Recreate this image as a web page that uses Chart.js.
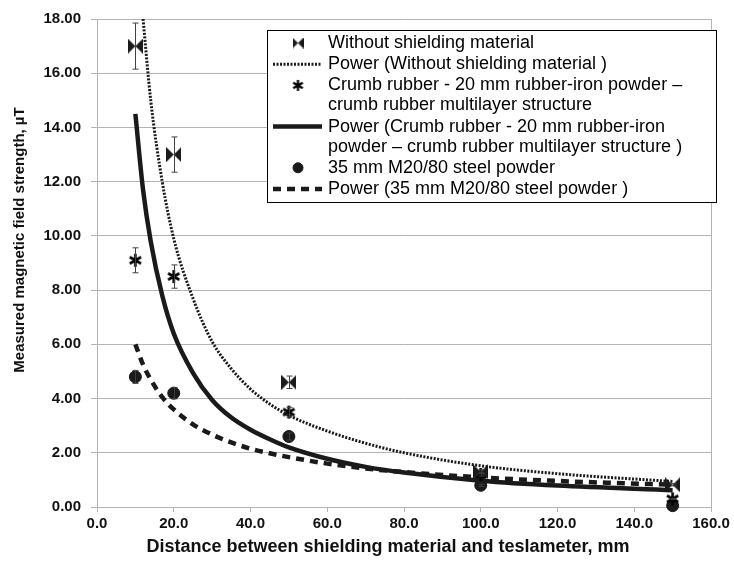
<!DOCTYPE html>
<html>
<head>
<meta charset="utf-8">
<script src="https://cdn.jsdelivr.net/npm/chart.js@4.4.0/dist/chart.umd.min.js"></script>
<style>
  html, body { margin: 0; padding: 0; background: #fff; }
  #wrap { width: 734px; height: 571px; }
</style>
</head>
<body>
<div id="wrap"><canvas id="myChart" width="734" height="571"></canvas></div>
<script>
// measured points
const distances = [10, 20, 50, 100, 150];
const withoutShielding = [17.0, 13.0, 4.6, 1.3, 0.82];
const withoutErr = [0.85, 0.65, 0.23, 0.07, 0.04];
const crumbRubber = [9.1, 8.5, 3.5, 1.2, 0.3];
const crumbErr = [0.46, 0.43, 0.18, 0.06, 0.02];
const steelPowder = [4.8, 4.2, 2.6, 0.8, 0.05];
const steelErr = [0.24, 0.21, 0.13, 0.04, 0];

// power trendlines, values
const trendX = [10, 12, 14, 17, 20, 25, 30, 35, 40, 45, 50, 60, 70, 80, 100, 120, 150];
const trendWithout = [null, 18.0, 15.0, 12.0, 9.9, 7.7, 6.1, 5.1, 4.35, 3.8, 3.38, 2.8, 2.35, 2.0, 1.52, 1.23, 0.94];
const trendCrumb = [14.5, 11.7, 9.8, 7.8, 6.4, 4.95, 3.95, 3.3, 2.85, 2.5, 2.2, 1.78, 1.48, 1.27, 0.97, 0.79, 0.62];
const trendSteel = [6.0, 5.25, 4.7, 4.05, 3.6, 3.05, 2.67, 2.38, 2.15, 1.98, 1.84, 1.6, 1.42, 1.29, 1.09, 0.96, 0.82];

const legendLabels = [
  ["Without shielding material"],
  ["Power (Without shielding material )"],
  ["Crumb rubber - 20 mm rubber-iron powder \u2013", "crumb rubber multilayer structure"],
  ["Power (Crumb rubber - 20 mm rubber-iron", "powder \u2013 crumb rubber multilayer structure )"],
  ["35 mm M20/80 steel powder"],
  ["Power (35 mm M20/80 steel powder )"]
];

const xTitle = "Distance between shielding material and teslameter, mm";
const yTitle = "Measured magnetic field strength, \u00b5T";

const ink = "#1a1a1a";
const gridColor = "#b4b4b4";
const fontFamily = "'Liberation Sans', Arial, sans-serif";

function toPoints(xs, ys) {
  const pts = [];
  for (let i = 0; i < xs.length; i++) {
    if (ys[i] !== null) pts.push({ x: xs[i], y: ys[i] });
  }
  return pts;
}

// bowtie marker (two triangles pointing inwards)
function makeBowtie(size) {
  const c = document.createElement("canvas");
  c.width = size;
  c.height = size;
  const g = c.getContext("2d");
  g.fillStyle = ink;
  g.beginPath();
  g.moveTo(0, 0);
  g.lineTo(size / 2, size / 2);
  g.lineTo(0, size);
  g.closePath();
  g.moveTo(size, 0);
  g.lineTo(size / 2, size / 2);
  g.lineTo(size, size);
  g.closePath();
  g.fill();
  return c;
}

// excel style asterisk: an X with a vertical bar
function makeAsterisk(size, w) {
  const c = document.createElement("canvas");
  c.width = size;
  c.height = size;
  const g = c.getContext("2d");
  const m = size / 2, r = size / 2 - 1;
  g.strokeStyle = "#000";
  g.lineWidth = w;
  g.beginPath();
  g.moveTo(m, m - r);
  g.lineTo(m, m + r);
  const d = r * 0.87;
  g.moveTo(m - d, m - r * 0.5);
  g.lineTo(m + d, m + r * 0.5);
  g.moveTo(m - d, m + r * 0.5);
  g.lineTo(m + d, m - r * 0.5);
  g.stroke();
  return c;
}

const bowtie = makeBowtie(15);
const bowtieSmall = makeBowtie(11);
const asterisk = makeAsterisk(15, 2.6);
const asteriskSmall = makeAsterisk(13, 2.3);

const errorBarPlugin = {
  id: "errorBars",
  afterDatasetsDraw(chart) {
    const ctx = chart.ctx;
    const xs = chart.scales.x;
    const ys = chart.scales.y;
    ctx.save();
    ctx.strokeStyle = "#404040";
    ctx.lineWidth = 1;
    chart.data.datasets.forEach((ds) => {
      if (!ds.errorBars) return;
      ds.data.forEach((p, i) => {
        const e = ds.errorBars[i];
        if (!e) return;
        const px = Math.round(xs.getPixelForValue(p.x)) + 0.5;
        const top = ys.getPixelForValue(p.y + e);
        const bot = ys.getPixelForValue(p.y - e);
        ctx.beginPath();
        ctx.moveTo(px, top);
        ctx.lineTo(px, bot);
        ctx.moveTo(px - 3, top);
        ctx.lineTo(px + 3, top);
        ctx.moveTo(px - 3, bot);
        ctx.lineTo(px + 3, bot);
        ctx.stroke();
      });
    });
    ctx.restore();
  }
};

// right border of the plot and the two axis titles
const framePlugin = {
  id: "frame",
  afterDraw(chart) {
    const { ctx, chartArea } = chart;
    ctx.save();
    ctx.strokeStyle = gridColor;
    ctx.lineWidth = 1;
    ctx.beginPath();
    ctx.moveTo(Math.round(chartArea.right) + 0.5, chartArea.top);
    ctx.lineTo(Math.round(chartArea.right) + 0.5, chartArea.bottom);
    ctx.stroke();

    ctx.fillStyle = "#111";
    ctx.textAlign = "center";
    ctx.textBaseline = "middle";
    ctx.font = "bold 18px " + fontFamily;
    ctx.fillText(xTitle, 388, 547);
    ctx.translate(20, 240);
    ctx.rotate(-Math.PI / 2);
    ctx.font = "bold 15px " + fontFamily;
    ctx.fillText(yTitle, 0, 0);
    ctx.restore();
  }
};

// legend box drawn by hand so two-line entries fit
const legendPlugin = {
  id: "boxLegend",
  afterDraw(chart) {
    const ctx = chart.ctx;
    const left = 267, top = 30, right = 716, bottom = 202;
    const symX = 298, textX = 328;
    ctx.save();
    ctx.fillStyle = "#fff";
    ctx.fillRect(left, top, right - left, bottom - top);
    ctx.strokeStyle = "#000";
    ctx.lineWidth = 1;
    ctx.strokeRect(left + 0.5, top + 0.5, right - left, bottom - top);
    ctx.font = "18px " + fontFamily;
    ctx.textBaseline = "middle";
    let y = 43;
    chart.data.datasets.forEach((ds, i) => {
      const lines = legendLabels[i];
      if (ds.showLine) {
        ctx.save();
        ctx.strokeStyle = ds.borderColor;
        ctx.lineWidth = ds.borderWidth;
        ctx.setLineDash(ds.borderDash || []);
        ctx.beginPath();
        ctx.moveTo(273, y);
        ctx.lineTo(322, y);
        ctx.stroke();
        ctx.restore();
      } else {
        ctx.save();
        ctx.strokeStyle = ink;
        ctx.fillStyle = ink;
        let style = ds.pointStyle;
        if (style === bowtie) style = bowtieSmall;
        if (style === asterisk) style = asteriskSmall;
        Chart.helpers.drawPoint(ctx, {
          pointStyle: style,
          radius: ds.pointRadius - 1,
          rotation: 0,
          borderWidth: 1
        }, symX, y);
        ctx.restore();
      }
      ctx.fillStyle = "#000";
      lines.forEach((t, k) => ctx.fillText(t, textX, y + k * 20));
      y += lines.length * 20 + 1.2;
    });
    ctx.restore();
  }
};

new Chart("myChart", {
  type: "scatter",
  data: {
    datasets: [
      {
        label: legendLabels[0].join(" "),
        data: toPoints(distances, withoutShielding),
        errorBars: withoutErr,
        pointStyle: bowtie,
        pointRadius: 7,
        backgroundColor: ink,
        borderColor: ink,
        clip: false
      },
      {
        label: legendLabels[1].join(" "),
        data: toPoints(trendX, trendWithout),
        showLine: true,
        pointRadius: 0,
        borderColor: ink,
        borderWidth: 3,
        borderDash: [2, 1.5],
        cubicInterpolationMode: "monotone"
      },
      {
        label: legendLabels[2].join(" "),
        data: toPoints(distances, crumbRubber),
        errorBars: crumbErr,
        pointStyle: asterisk,
        pointRadius: 7,
        backgroundColor: ink,
        borderColor: ink,
        clip: false
      },
      {
        label: legendLabels[3].join(" "),
        data: toPoints(trendX, trendCrumb),
        showLine: true,
        pointRadius: 0,
        borderColor: ink,
        borderWidth: 4.5,
        cubicInterpolationMode: "monotone"
      },
      {
        label: legendLabels[4].join(" "),
        data: toPoints(distances, steelPowder),
        errorBars: steelErr,
        pointStyle: "circle",
        pointRadius: 6,
        backgroundColor: ink,
        borderColor: ink,
        clip: false
      },
      {
        label: legendLabels[5].join(" "),
        data: toPoints(trendX, trendSteel),
        showLine: true,
        pointRadius: 0,
        borderColor: ink,
        borderWidth: 4.5,
        borderDash: [8, 6],
        cubicInterpolationMode: "monotone"
      }
    ]
  },
  options: {
    responsive: false,
    animation: false,
    layout: { padding: { top: 16, right: 23, left: 0, bottom: 0 } },
    plugins: {
      legend: { display: false },
      tooltip: { enabled: false }
    },
    scales: {
      x: {
        type: "linear",
        min: 0,
        max: 160,
        afterFit: (s) => { s.height = 64; },
        ticks: {
          stepSize: 20,
          maxRotation: 0,
          padding: 3,
          color: "#111",
          font: { family: fontFamily, size: 15, weight: "bold" },
          callback: (v) => v.toFixed(1)
        },
        grid: { drawOnChartArea: false, tickLength: 5, color: gridColor },
        border: { color: gridColor }
      },
      y: {
        min: 0,
        max: 18,
        afterFit: (s) => { s.width = 97; },
        ticks: {
          stepSize: 2,
          padding: 10,
          color: "#111",
          font: { family: fontFamily, size: 15, weight: "bold" },
          callback: (v) => v.toFixed(2)
        },
        grid: { tickLength: 6, color: gridColor },
        border: { color: gridColor }
      }
    }
  },
  plugins: [errorBarPlugin, framePlugin, legendPlugin]
});
</script>
</body>
</html>
